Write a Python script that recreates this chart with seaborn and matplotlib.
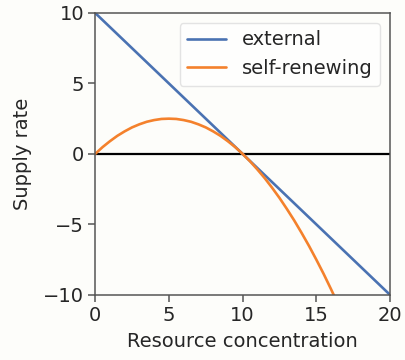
import numpy as np
import pandas as pd
import matplotlib
matplotlib.use("Agg")
import matplotlib.pyplot as plt
import seaborn as sns

# Resource concentration grid and the supply rate of each model
resource = [0, 0.5, 1, 1.5, 2, 2.5, 3, 3.5, 4, 4.5, 5, 5.5, 6, 6.5, 7, 7.5, 8,
            8.5, 9, 9.5, 10, 10.5, 11, 11.5, 12, 12.5, 13, 13.5, 14, 14.5, 15,
            15.5, 16, 16.5, 17]
self_renewing = [0, 0.48, 0.9, 1.28, 1.6, 1.88, 2.1, 2.28, 2.4, 2.48, 2.5,
                 2.48, 2.4, 2.28, 2.1, 1.88, 1.6, 1.28, 0.9, 0.48, 0, -0.52,
                 -1.1, -1.72, -2.4, -3.12, -3.9, -4.72, -5.6, -6.52, -7.5,
                 -8.52, -9.6, -10.72, -11.9]
external_R = [0, 20]
external = [10, -10]

df = pd.concat([
    pd.DataFrame({"R": external_R, "rate": external, "model": "external"}),
    pd.DataFrame({"R": resource, "rate": self_renewing, "model": "self-renewing"}),
])

sns.set_style("ticks")
plt.rcParams["font.family"] = ["DejaVu Sans"]

fig = plt.figure(figsize=(4.05, 3.6), dpi=100)
fig.patch.set_facecolor("#fdfdfa")
ax = fig.add_axes([0.235, 0.181, 0.728, 0.783])
ax.set_facecolor("#fdfdfa")

sns.lineplot(data=df, x="R", y="rate", hue="model",
             palette={"external": "#4a72b2", "self-renewing": "#f4812c"},
             linewidth=1.9, ax=ax, sort=False)
ax.axhline(0, color="black", linewidth=1.6, zorder=1)

ax.set_xlim(0, 20)
ax.set_ylim(-10, 10)
ax.set_xticks([0, 5, 10, 15, 20])
ax.set_yticks([-10, -5, 0, 5, 10])
ax.set_xlabel("Resource concentration", fontsize=14, color="#262626", labelpad=5)
ax.set_ylabel("Supply rate", fontsize=14, color="#262626", labelpad=8)
ax.tick_params(labelsize=14, colors="#262626", length=5, width=1.1,
               color="#555555", pad=3)
for s in ax.spines.values():
    s.set_color("#555555")
    s.set_linewidth(1.1)

leg = ax.legend(loc="upper right", fontsize=14, frameon=True,
                handlelength=2.0, borderaxespad=0.5)
leg.get_frame().set_edgecolor("#dddddd")
leg.set_title(None)

fig.savefig("out.png", dpi=100)
